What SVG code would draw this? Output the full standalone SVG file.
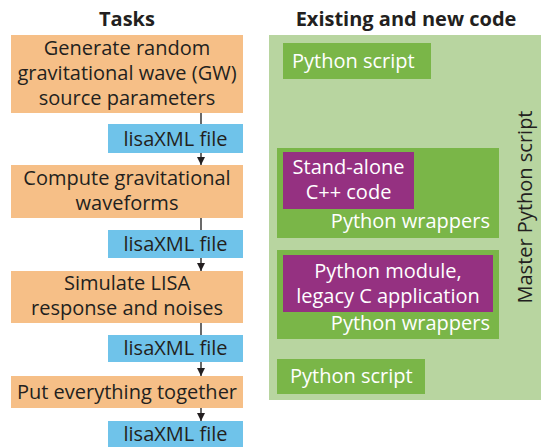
<svg xmlns="http://www.w3.org/2000/svg" width="545" height="447" viewBox="0 0 545 447">
<defs>
<style>
text{font-family:"Open Sans","Noto Sans",sans-serif;font-size:20px;}
.h{font-weight:bold;fill:#231f20;font-size:20px;text-anchor:middle;}
.task{fill:#f6bf87;}
.file{fill:#6fc3ea;}
.dk{fill:#231f20;text-anchor:middle;}
.wt{fill:#ffffff;}
.mid{text-anchor:middle;}
.end{text-anchor:end;}
.lg{fill:#b8d5a0;}
.g{fill:#7ab648;}
.p{fill:#953181;}
.c{stroke:#444444;stroke-width:1.6;fill:none;}
</style>
<marker id="ah" viewBox="0 0 10 10" refX="10" refY="5" markerWidth="8" markerHeight="9" orient="auto" markerUnits="userSpaceOnUse">
<path d="M0,0L10,5L0,10z" fill="#231f20"/>
</marker>
</defs>
<text class="h" x="127" y="26">Tasks</text>
<text class="h" x="406" y="26">Existing and new code</text>
<g id="connectors">
<line class="c" x1="201" y1="113" x2="201" y2="124"/>
<line class="c" x1="201" y1="153" x2="201" y2="165" marker-end="url(#ah)"/>
<line class="c" x1="201" y1="218" x2="201" y2="230"/>
<line class="c" x1="201" y1="258" x2="201" y2="271" marker-end="url(#ah)"/>
<line class="c" x1="201" y1="323" x2="201" y2="335"/>
<line class="c" x1="201" y1="362" x2="201" y2="376" marker-end="url(#ah)"/>
<line class="c" x1="201" y1="408" x2="201" y2="421" marker-end="url(#ah)"/>
</g>
<g id="task1">
<rect class="task" x="11" y="35" width="232" height="78"/>
<text class="dk" x="127" y="55">Generate random</text>
<text class="dk" x="127" y="80">gravitational wave (GW)</text>
<text class="dk" x="127" y="105">source parameters</text>
</g>
<g id="file1">
<rect class="file" x="108" y="124" width="135" height="29"/>
<text class="dk" x="175.500" y="146">lisaXML file</text>
</g>
<g id="task2">
<rect class="task" x="11" y="165" width="232" height="53"/>
<text class="dk" x="127" y="185">Compute gravitational</text>
<text class="dk" x="127" y="210">waveforms</text>
</g>
<g id="file2">
<rect class="file" x="108" y="230" width="135" height="28"/>
<text class="dk" x="175.500" y="251">lisaXML file</text>
</g>
<g id="task3">
<rect class="task" x="11" y="271" width="232" height="52"/>
<text class="dk" x="127" y="290">Simulate LISA</text>
<text class="dk" x="127" y="315">response and noises</text>
</g>
<g id="file3">
<rect class="file" x="108" y="335" width="135" height="27"/>
<text class="dk" x="175.500" y="355">lisaXML file</text>
</g>
<g id="task4">
<rect class="task" x="11" y="376" width="232" height="32"/>
<text class="dk" x="127" y="399">Put everything together</text>
</g>
<g id="file4">
<rect class="file" x="108" y="421" width="135" height="26"/>
<text class="dk" x="175.500" y="441">lisaXML file</text>
</g>
<g id="master">
<rect class="lg" x="269" y="35" width="272" height="365"/>
<text class="mid" fill="#231f20" transform="translate(532,207) rotate(-90)">Master Python script</text>
</g>
<g id="script1">
<rect class="g" x="283" y="43" width="148" height="36"/>
<text class="wt" x="292" y="68">Python script</text>
</g>
<g id="wrap1">
<rect class="g" x="277" y="148" width="222" height="90"/>
<text class="wt end" x="490" y="228">Python wrappers</text>
</g>
<g id="cpp">
<rect class="p" x="283" y="152" width="131" height="57"/>
<text class="wt mid" x="348.500" y="174">Stand-alone</text>
<text class="wt mid" x="348.500" y="199">C++ code</text>
</g>
<g id="wrap2">
<rect class="g" x="277" y="250" width="222" height="89"/>
<text class="wt end" x="490" y="330">Python wrappers</text>
</g>
<g id="legacy">
<rect class="p" x="283" y="255" width="210" height="57"/>
<text class="wt mid" x="388" y="278">Python module,</text>
<text class="wt mid" x="388" y="303">legacy C application</text>
</g>
<g id="script2">
<rect class="g" x="277" y="359" width="148" height="35"/>
<text class="wt" x="290" y="383">Python script</text>
</g>
</svg>
